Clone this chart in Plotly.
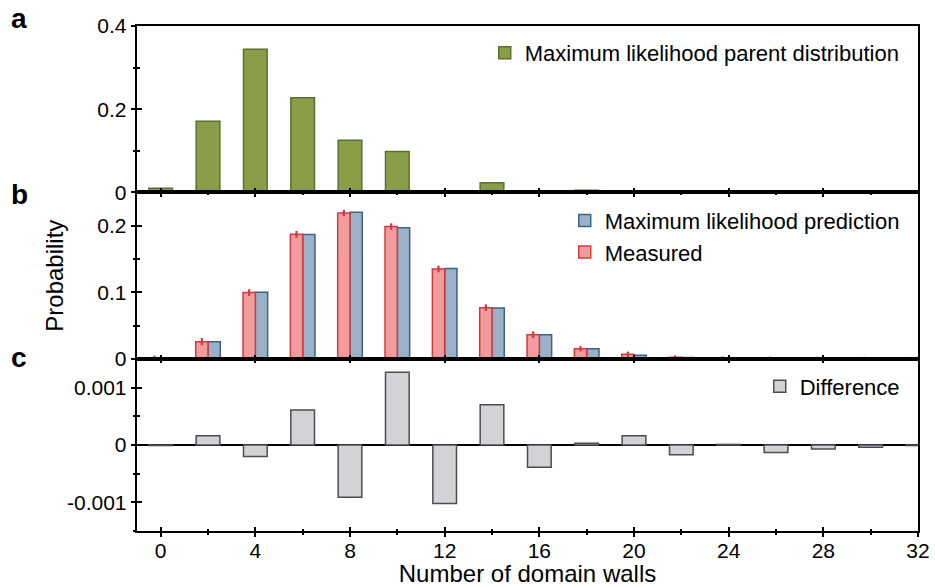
import plotly.graph_objects as go

walls = [0, 2, 4, 6, 8, 10, 12, 14, 16, 18, 20, 22, 24, 26, 28, 30, 32]
parent = [0.0095, 0.171, 0.344, 0.2275, 0.125, 0.098, 0.001, 0.023, 0.001, 0.005,
          0.0008, 0.0005, 0.0008, 0.0005, 0.0005, 0.0005, 0.0005]
predicted = [0.0012, 0.026, 0.100, 0.1867, 0.220, 0.1967, 0.1356, 0.0766, 0.0365, 0.0155,
             0.0055, 0.0022, 0.0008, 0.0004, 0.0002, 0.0001, 0.0001]
measured = [0.002, 0.026, 0.0996, 0.187, 0.219, 0.1987, 0.135, 0.077, 0.0365, 0.0155,
            0.007, 0.0025, 0.001, 0.0006, 0.0004, 0.0003, 0.0002]
measured_err = [0.003, 0.0055, 0.005, 0.005, 0.005, 0.005, 0.005, 0.005, 0.005, 0.004,
                0.004, 0.003, 0.003, 0.003, 0.003, 0.003, 0.003]
difference = [-0.00001, 0.00016, -0.0002, 0.00061, -0.00091, 0.00127, -0.00102, 0.0007,
              -0.00039, 0.00003, 0.00016, -0.00017, 0.00001, -0.00013, -0.00007, -0.00004, -0.00001]

diff_ticks = [-0.001, 0, 0.001]
diff_ticktext = ["-0.001", "0", "0.001"]

FONT = "Liberation Sans, Arial, Helvetica, sans-serif"
GREEN, GREEN_LINE = "#8a9e4a", "#5e6f2d"
RED, RED_LINE = "#f09c9c", "#cf3b40"
BLUE, BLUE_LINE = "#9ab1c7", "#3e6287"
GREY, GREY_LINE = "#d2d3d5", "#4b4d55"

fig = go.Figure()

fig.add_trace(go.Bar(x=walls, y=parent, width=1.0, xaxis="x", yaxis="y",
                     name="Maximum likelihood parent distribution",
                     marker=dict(color=GREEN, line=dict(color=GREEN_LINE, width=1.5)),
                     legend="legend"))
fig.add_trace(go.Bar(x=walls, y=predicted, width=0.52, offset=0.0, xaxis="x2", yaxis="y2",
                     name="Maximum likelihood prediction",
                     marker=dict(color=BLUE, line=dict(color=BLUE_LINE, width=1.5)),
                     legend="legend2"))
fig.add_trace(go.Bar(x=walls, y=measured, width=0.52, offset=-0.52, xaxis="x2", yaxis="y2",
                     name="Measured",
                     marker=dict(color=RED, line=dict(color=RED_LINE, width=1.5)),
                     error_y=dict(type="data", array=measured_err, color=RED_LINE,
                                  thickness=2.2, width=0),
                     legend="legend2"))
fig.add_trace(go.Bar(x=walls, y=difference, width=1.0, xaxis="x3", yaxis="y3",
                     name="Difference",
                     marker=dict(color=GREY, line=dict(color=GREY_LINE, width=1.5)),
                     legend="legend3"))

# empty helper traces so the overlay tick axes are drawn
for xa, ya in [("x4", "y3"), ("x", "y4"), ("x2", "y5"), ("x3", "y6")]:
    fig.add_trace(go.Scatter(x=[None], y=[None], xaxis=xa, yaxis=ya,
                             showlegend=False, hoverinfo="skip"))

XR = [-1, 32]
dom_c = [0, 0.3406]
dom_b = [0.3406, 0.6707]
dom_a = [0.6707, 1.0]

tickfont = dict(family=FONT, size=21, color="black")
minor_in_x = dict(tickmode="linear", tick0=0, dtick=2, ticklen=2.5, tickwidth=1.5,
                  tickcolor="black", ticks="inside")
minor_out_x = dict(minor_in_x, ticks="outside")
common_x = dict(range=XR, tickmode="linear", tick0=0, dtick=4, ticklen=4.5, tickwidth=1.5,
                tickcolor="black", showline=True, linecolor="black", linewidth=1.5,
                showgrid=False, zeroline=False, tickfont=tickfont, automargin=False,
                minor=minor_in_x)
common_y = dict(tickwidth=1.5, tickcolor="black", ticklen=4.5, showgrid=False,
                zeroline=False, tickfont=tickfont, automargin=False)

fig.update_layout(
    width=935, height=587,
    margin=dict(l=137, r=17, t=26, b=56),
    paper_bgcolor="white", plot_bgcolor="white",
    barmode="overlay",
    font=dict(family=FONT, color="black"),
    xaxis=dict(common_x, anchor="y", ticks="inside", mirror=True, showticklabels=False),
    xaxis2=dict(common_x, anchor="y2", ticks="inside", mirror="ticks", showticklabels=False),
    xaxis3=dict(common_x, anchor="y3", ticks="inside", mirror="ticks", showticklabels=True,
                title=dict(text="Number of domain walls", font=dict(family=FONT, size=24),
                           standoff=0)),
    xaxis4=dict(common_x, overlaying="x3", anchor="y3", side="bottom", ticks="outside",
                showticklabels=False, showline=False, minor=minor_out_x),
    yaxis=dict(common_y, domain=dom_a, anchor="x", range=[0, 0.4], tickmode="linear", tick0=0,
               dtick=0.2, ticks="outside",
               showline=True, linecolor="black", linewidth=1.5, mirror=True,
               minor=dict(tickmode="linear", tick0=0, dtick=0.1, ticklen=2.5, tickwidth=1.5,
                          tickcolor="black", ticks="outside")),
    yaxis4=dict(common_y, overlaying="y", anchor="x", range=[0, 0.4], tickmode="linear", tick0=0,
                dtick=0.2, ticks="inside", showline=False, showticklabels=False,
                minor=dict(tickmode="linear", tick0=0, dtick=0.1, ticklen=2.5, tickwidth=1.5,
                           tickcolor="black", ticks="inside")),
    yaxis2=dict(common_y, domain=dom_b, anchor="x2", range=[0, 0.25], tickmode="linear", tick0=0,
                dtick=0.1, ticks="outside",
                showline=True, linecolor="black", linewidth=1.5, mirror=True,
                minor=dict(tickmode="linear", tick0=0, dtick=0.05, ticklen=2.5, tickwidth=1.5,
                           tickcolor="black", ticks="outside"),
                title=dict(text="Probability", font=dict(family=FONT, size=24), standoff=27)),
    yaxis5=dict(common_y, overlaying="y2", anchor="x2", range=[0, 0.25], tickmode="linear", tick0=0,
                dtick=0.1, ticks="inside", showline=False, showticklabels=False,
                minor=dict(tickmode="linear", tick0=0, dtick=0.05, ticklen=2.5, tickwidth=1.5,
                           tickcolor="black", ticks="inside")),
    yaxis3=dict(common_y, domain=dom_c, anchor="x3", range=[-0.0015, 0.0015], tickmode="array",
                tickvals=diff_ticks, ticktext=diff_ticktext, ticks="outside",
                showline=True, linecolor="black", linewidth=1.5, mirror=True,
                zeroline=True, zerolinecolor="black", zerolinewidth=1.5,
                minor=dict(tickmode="linear", tick0=0, dtick=0.0005, ticklen=2.5, tickwidth=1.5,
                           tickcolor="black", ticks="outside")),
    yaxis6=dict(common_y, overlaying="y3", anchor="x3", range=[-0.0015, 0.0015], tickmode="array",
                tickvals=diff_ticks, ticks="inside", showline=False, showticklabels=False,
                minor=dict(tickmode="linear", tick0=0, dtick=0.0005, ticklen=2.5, tickwidth=1.5,
                           tickcolor="black", ticks="inside")),
    legend=dict(x=0.983, xanchor="right", y=0.9465, yanchor="middle",
                bgcolor="rgba(0,0,0,0)", font=dict(family=FONT, size=22)),
    legend2=dict(x=0.983, xanchor="right", y=0.583, yanchor="middle",
                 bgcolor="rgba(0,0,0,0)", font=dict(family=FONT, size=22)),
    legend3=dict(x=0.983, xanchor="right", y=0.286, yanchor="middle",
                 bgcolor="rgba(0,0,0,0)", font=dict(family=FONT, size=22)),
    showlegend=True,
)

for label, yp in [("a", 1.014), ("b", 0.667), ("c", 0.3426)]:
    fig.add_annotation(text="<b>%s</b>" % label, xref="paper", yref="paper",
                       x=-0.151, y=yp, xanchor="center", yanchor="middle", showarrow=False,
                       font=dict(family=FONT, size=28, color="black"))

fig.write_html("out.html", config={"displayModeBar": False},
               post_script="document.body.style.margin='0';")
